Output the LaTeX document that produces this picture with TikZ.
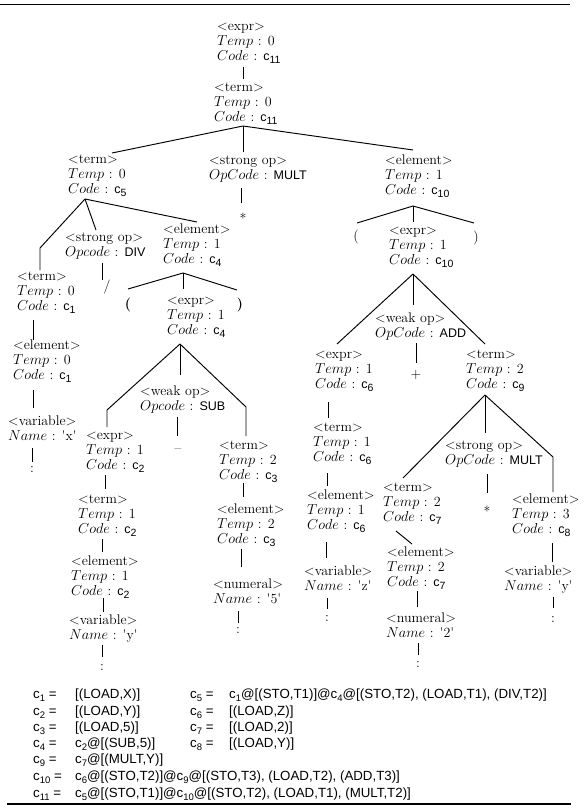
\documentclass[tikz,border=0pt]{standalone}
\usepackage{fontspec}
\newfontfamily\sansf{Liberation Sans}
\newcommand{\cn}[1]{{\sansf\fontsize{12.5}{13}\selectfont c}\raisebox{-3.5pt}{\sansf\fontsize{10.5}{11}\selectfont #1}}
\newcommand{\ce}[1]{c\raisebox{-3pt}{\fontsize{9.5}{10}\selectfont #1}}
\newcommand{\opn}[1]{{\sansf\fontsize{12.5}{13}\selectfont #1}}
\newcommand{\tmpline}[1]{$Temp$ : #1}
\newcommand{\codeline}[1]{$Code$ : \cn{#1}}
\newcommand{\nmline}[1]{$Name$ : \textquotesingle#1\textquotesingle}
\tikzset{
  lab/.style={anchor=north west, inner sep=0pt, align=left, font=\fontsize{14}{15}\selectfont},
  sym/.style={anchor=center, inner sep=0pt, font=\fontsize{14}{15}\selectfont},
  ln/.style={line width=0.95pt},
  eq/.style={anchor=base west, inner sep=0pt, font=\sansf\fontsize{13.3}{16}\selectfont},
}
\begin{document}
\begin{tikzpicture}[x=1pt,y=-1pt]
\useasboundingbox (0,0) rectangle (586,810);
% frame rules
\coordinate (topL) at (0,4.5); \coordinate (topR) at (570,4.5);
\coordinate (botL) at (7,804); \coordinate (botR) at (571,804);
\draw[line width=1.4pt] (topL) -- (topR);
\draw[line width=1.4pt] (botL) -- (botR);

% ---------- nodes ----------
\node[lab] (root) at (217,19.5) {\strut<expr>\\\tmpline{0}\\\codeline{11}};
\node[lab] (t0) at (214,80.5) {\strut<term>\\\tmpline{0}\\\codeline{11}};
\node[lab] (t5) at (68,152.5) {\strut<term>\\\tmpline{0}\\\codeline{5}};
\node[lab] (sop1) at (209,153.5) {\strut<strong op>\\$OpCode$ : \opn{MULT}};
\node[sym] (star1) at (243,218) {*};
\node[lab] (el10) at (385,153.5) {\strut<element>\\\tmpline{1}\\\codeline{10}};
\node[lab] (t1) at (17,269.5) {\strut<term>\\\tmpline{0}\\\codeline{1}};
\node[lab] (sop2) at (65,230.5) {\strut<strong op>\\$Opcode$ : \opn{DIV}};
\node[sym] (slash) at (107,287) {/};
\node[lab] (el4) at (163,222.5) {\strut<element>\\\tmpline{1}\\\codeline{4}};
\node[sym] (lpa) at (128,305) {\textbf{(}};
\node[sym] (rpa) at (240,305) {\textbf{)}};
\node[lab] (ex4) at (167,293.5) {\strut<expr>\\\tmpline{1}\\\codeline{4}};
\node[lab] (el1) at (13,338.5) {\strut<element>\\\tmpline{0}\\\codeline{1}};
\node[lab] (varx) at (8,414.5) {\strut<variable>\\\nmline{x}};
\node[sym] (dx) at (32,469) {:};
\node[lab] (wop1) at (140,384.5) {\strut<weak op>\\$Opcode$ : \opn{SUB}};
\node[sym] (minus) at (178,451) {--};
\node[lab] (ex2) at (86,428.5) {\strut<expr>\\\tmpline{1}\\\codeline{2}};
\node[lab] (t2) at (78,492.5) {\strut<term>\\\tmpline{1}\\\codeline{2}};
\node[lab] (el2) at (71,554.5) {\strut<element>\\\tmpline{1}\\\codeline{2}};
\node[lab] (vary1) at (69,613.5) {\strut<variable>\\\nmline{y}};
\node[sym] (dy1) at (102,667) {:};
\node[lab] (t3) at (219,438.5) {\strut<term>\\\tmpline{2}\\\codeline{3}};
\node[lab] (el3) at (217,502.5) {\strut<element>\\\tmpline{2}\\\codeline{3}};
\node[lab] (num5) at (213,577.5) {\strut<numeral>\\\nmline{5}};
\node[sym] (d5) at (238,630) {:};
\node[sym] (lpb) at (356,237) {(};
\node[sym] (rpb) at (476,238) {)};
\node[lab] (ex10) at (389,223.5) {\strut<expr>\\\tmpline{1}\\\codeline{10}};
\node[lab] (wop2) at (375,311.5) {\strut<weak op>\\$OpCode$ : \opn{ADD}};
\node[sym] (plus) at (416,375) {+};
\node[lab] (ex6) at (315,347.5) {\strut<expr>\\\tmpline{1}\\\codeline{6}};
\node[lab] (t6) at (313,420.5) {\strut<term>\\\tmpline{1}\\\codeline{6}};
\node[lab] (el6) at (307,488.5) {\strut<element>\\\tmpline{1}\\\codeline{6}};
\node[lab] (varz) at (304,564.5) {\strut<variable>\\\nmline{z}};
\node[sym] (dz) at (327,618) {:};
\node[lab] (t9) at (466,347.5) {\strut<term>\\\tmpline{2}\\\codeline{9}};
\node[lab] (sop3) at (445,438.5) {\strut<strong op>\\$OpCode$ : \opn{MULT}};
\node[sym] (star2) at (487,511) {*};
\node[lab] (t7) at (383,480.5) {\strut<term>\\\tmpline{2}\\\codeline{7}};
\node[lab] (el7) at (387,545.5) {\strut<element>\\\tmpline{2}\\\codeline{7}};
\node[lab] (num2) at (386,611.5) {\strut<numeral>\\\nmline{2}};
\node[sym] (d2) at (418,664) {:};
\node[lab] (el8) at (512,492.5) {\strut<element>\\\tmpline{3}\\\codeline{8}};
\node[lab] (vary2) at (504,564.5) {\strut<variable>\\\nmline{y}};
\node[sym] (dy2) at (553,619) {:};

% ---------- connector points ----------
\coordinate (rootB) at (243,67);  \coordinate (t0T) at (243,79);
\coordinate (t0F) at (243,126);
\coordinate (t5T) at (112,153); \coordinate (sop1T) at (243,152); \coordinate (el10T) at (413,150);
\coordinate (sop1B) at (241,188); \coordinate (star1T) at (241,203);
\coordinate (t5F) at (85,199);
\coordinate (t1K) at (40,248); \coordinate (t1T) at (40,270);
\coordinate (sop2T) at (96,230); \coordinate (el4T) at (197,222);
\coordinate (sop2B) at (102,263); \coordinate (slashT) at (102,280);
\coordinate (el4F) at (183,273);
\coordinate (lpaT) at (128,289); \coordinate (ex4T) at (183,289); \coordinate (rpaT) at (237,290);
\coordinate (t1B) at (33,320); \coordinate (el1T) at (33,340);
\coordinate (el1B) at (33,390); \coordinate (varxT) at (33,408);
\coordinate (varxB) at (32,448); \coordinate (dxT) at (32,462);
\coordinate (ex4F) at (180,344);
\coordinate (ex2K) at (107,410); \coordinate (ex2T) at (107,427);
\coordinate (wop1T) at (180,375);
\coordinate (t3K) at (246,407); \coordinate (t3T) at (246,436);
\coordinate (wop1B) at (177,417); \coordinate (minusT) at (177,436);
\coordinate (ex2B) at (105,475); \coordinate (t2T) at (105,489);
\coordinate (t2B) at (102,539); \coordinate (el2T) at (102,552);
\coordinate (el2B) at (103,598); \coordinate (vary1T) at (103,612);
\coordinate (vary1B) at (102,645); \coordinate (dy1T) at (102,657);
\coordinate (t3B) at (243,483); \coordinate (el3T) at (243,497);
\coordinate (el3B) at (241,549); \coordinate (num5T) at (241,567);
\coordinate (num5B) at (238,611); \coordinate (d5T) at (238,623);
\coordinate (el10F) at (413,206);
\coordinate (lpbT) at (357,223); \coordinate (ex10T) at (413,222); \coordinate (rpbT) at (474,223);
\coordinate (ex10F) at (413,274);
\coordinate (ex6T) at (337,344); \coordinate (wop2T) at (413,305); \coordinate (t9T) at (485,344);
\coordinate (wop2B) at (416,343); \coordinate (plusT) at (416,363);
\coordinate (ex6B) at (328,402); \coordinate (t6T) at (328,418);
\coordinate (t6B) at (327,473); \coordinate (el6T) at (327,486);
\coordinate (el6B) at (326,542); \coordinate (varzT) at (326,558);
\coordinate (varzB) at (327,598); \coordinate (dzT) at (327,609);
\coordinate (t9F) at (485,395);
\coordinate (t7T) at (403,478); \coordinate (sop3T) at (485,433);
\coordinate (el8K) at (553,457); \coordinate (el8T) at (553,492);
\coordinate (sop3B) at (487,474); \coordinate (star2T) at (487,493);
\coordinate (t7B) at (396,531); \coordinate (el7T) at (412,544);
\coordinate (el7B) at (417,591); \coordinate (num2T) at (417,607);
\coordinate (num2B) at (418,643); \coordinate (d2T) at (418,655);
\coordinate (el8B) at (552,543); \coordinate (vary2T) at (552,562);
\coordinate (vary2B) at (553,597); \coordinate (dy2T) at (553,608);

% ---------- connectors ----------
\draw[ln] (rootB) -- (t0T);
\draw[ln] (t0F) -- (t5T);
\draw[ln] (t0F) -- (sop1T);
\draw[ln] (t0F) -- (el10T);
\draw[ln] (sop1B) -- (star1T);
\draw[ln] (t5F) -- (t1K) -- (t1T);
\draw[ln] (t5F) -- (sop2T);
\draw[ln] (t5F) -- (el4T);
\draw[ln] (sop2B) -- (slashT);
\draw[ln] (el4F) -- (lpaT);
\draw[ln] (el4F) -- (ex4T);
\draw[ln] (el4F) -- (rpaT);
\draw[ln] (t1B) -- (el1T);
\draw[ln] (el1B) -- (varxT);
\draw[ln] (varxB) -- (dxT);
\draw[ln] (ex4F) -- (ex2K) -- (ex2T);
\draw[ln] (ex4F) -- (wop1T);
\draw[ln] (ex4F) -- (t3K) -- (t3T);
\draw[ln] (wop1B) -- (minusT);
\draw[ln] (ex2B) -- (t2T);
\draw[ln] (t2B) -- (el2T);
\draw[ln] (el2B) -- (vary1T);
\draw[ln] (vary1B) -- (dy1T);
\draw[ln] (t3B) -- (el3T);
\draw[ln] (el3B) -- (num5T);
\draw[ln] (num5B) -- (d5T);
\draw[ln] (el10F) -- (lpbT);
\draw[ln] (el10F) -- (ex10T);
\draw[ln] (el10F) -- (rpbT);
\draw[ln] (ex10F) -- (ex6T);
\draw[ln] (ex10F) -- (wop2T);
\draw[ln] (ex10F) -- (t9T);
\draw[ln] (wop2B) -- (plusT);
\draw[ln] (ex6B) -- (t6T);
\draw[ln] (t6B) -- (el6T);
\draw[ln] (el6B) -- (varzT);
\draw[ln] (varzB) -- (dzT);
\draw[ln] (t9F) -- (t7T);
\draw[ln] (t9F) -- (sop3T);
\draw[ln] (t9F) -- (el8K) -- (el8T);
\draw[ln] (sop3B) -- (star2T);
\draw[ln] (t7B) -- (el7T);
\draw[ln] (el7B) -- (num2T);
\draw[ln] (num2B) -- (d2T);
\draw[ln] (el8B) -- (vary2T);
\draw[ln] (vary2B) -- (dy2T);

% ---------- code equations ----------
\node[eq] (e1l) at (33,698) {\ce{1} =};
\node[eq] (e1r) at (75,698) {[(LOAD,X)]};
\node[eq] (e5l) at (190,698) {\ce{5} =};
\node[eq] (e5r) at (229,698) {\ce{1}@[(STO,T1)]@\ce{4}@[(STO,T2), (LOAD,T1), (DIV,T2)]};
\node[eq] (e2l) at (33,715) {\ce{2} =};
\node[eq] (e2r) at (75,715) {[(LOAD,Y)]};
\node[eq] (e6l) at (190,715) {\ce{6} =};
\node[eq] (e6r) at (229,715) {[(LOAD,Z)]};
\node[eq] (e3l) at (33,731) {\ce{3} =};
\node[eq] (e3r) at (75,731) {[(LOAD,5)]};
\node[eq] (e7l) at (190,731) {\ce{7} =};
\node[eq] (e7r) at (229,731) {[(LOAD,2)]};
\node[eq] (e4l) at (33,747) {\ce{4} =};
\node[eq] (e4r) at (75,747) {\ce{2}@[(SUB,5)]};
\node[eq] (e8l) at (190,747) {\ce{8} =};
\node[eq] (e8r) at (229,747) {[(LOAD,Y)]};
\node[eq] (e9l) at (33,763) {\ce{9} =};
\node[eq] (e9r) at (75,763) {\ce{7}@[(MULT,Y)]};
\node[eq] (e10l) at (33,780) {\ce{10} =};
\node[eq] (e10r) at (75,780) {\ce{6}@[(STO,T2)]@\ce{9}@[(STO,T3), (LOAD,T2), (ADD,T3)]};
\node[eq] (e11l) at (33,797) {\ce{11} =};
\node[eq] (e11r) at (75,797) {\ce{5}@[(STO,T1)]@\ce{10}@[(STO,T2), (LOAD,T1), (MULT,T2)]};
\end{tikzpicture}
\end{document}
